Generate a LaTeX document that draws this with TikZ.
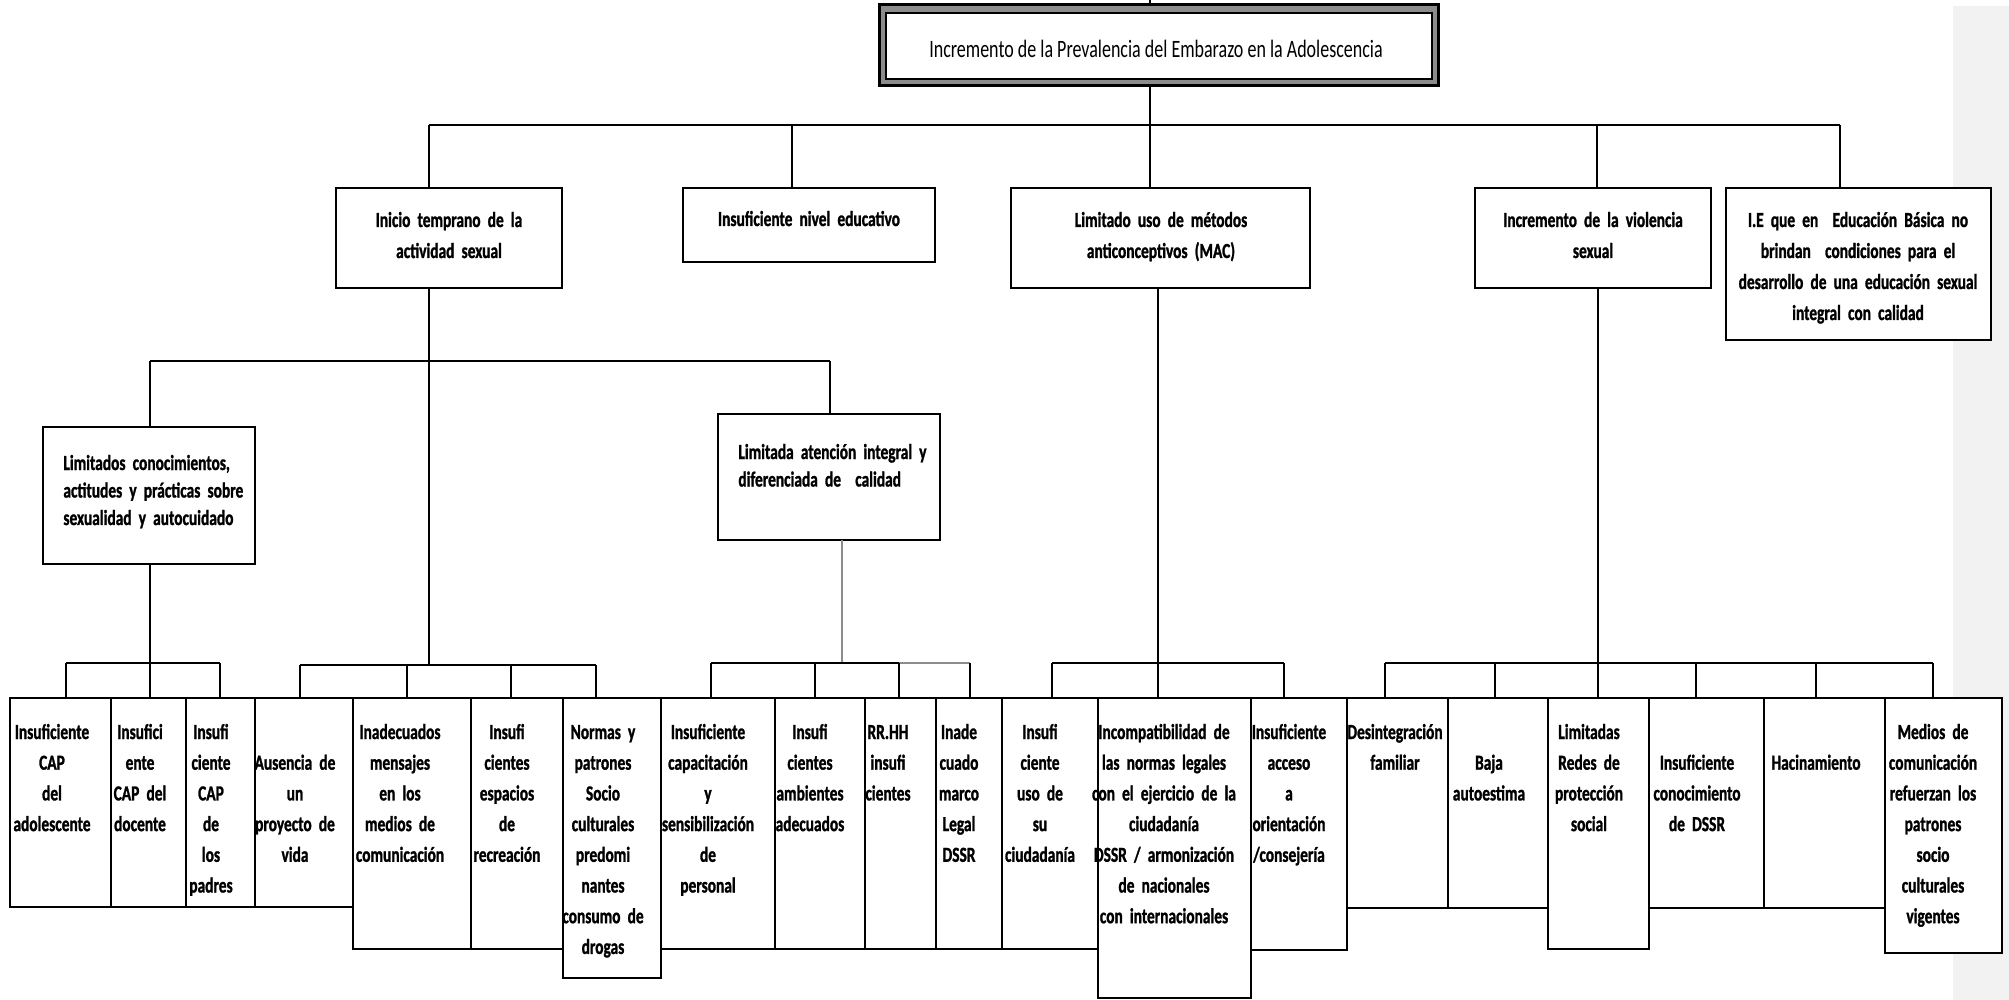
\documentclass[tikz,border=0pt]{standalone}
\usepackage{fontspec}
\setmainfont{Carlito}[FakeStretch=0.72,BoldFeatures={FakeBold=1.2}]
\newcommand\mybox[5]{\node[box,minimum width={(#4-#2)*0.5pt},minimum height={(#5-#3)*0.5pt}] (#1) at ({(#2+#4)/2},{(#3+#5)/2}) {};}
\newcommand\boldset[2]{\bfseries\fontsize{#1}{#2}\selectfont}
\begin{document}
\begin{tikzpicture}[x=0.5pt,y=-0.5pt,
  box/.style={draw=black,fill=white,line width=1.2pt,inner sep=0pt,outer sep=0pt},
  conn/.style={line width=0.85pt,draw=black},
  gconn/.style={line width=0.85pt,draw=black!45},
  btxt/.style={inner sep=0pt,align=center,text width=170pt,anchor=base,font=\boldset{10.7}{15.35}},
  ltxt/.style={inner sep=0pt,align=center,text width=170pt,anchor=base,font=\boldset{10.7}{15.5}},
  mtxt/.style={inner sep=0pt,align=left,text width=150pt,anchor=base west,font=\boldset{10.7}{13.75}},
  ttxt/.style={inner sep=0pt,anchor=base,font=\fontsize{12.5}{15}\selectfont}
]
\useasboundingbox (0,0) rectangle (2009,1000);
\fill[black!5] (1953,6) rectangle (2009,1000);

% ---------- title ----------
\node[draw=black,fill=black!45,line width=1.5pt,inner sep=0pt,minimum width={559*0.5pt},minimum height={81*0.5pt}] (T) at (1158.5,45.5) {};
\node[draw=black,fill=white,line width=1.25pt,inner sep=0pt,minimum width={546*0.5pt},minimum height={66*0.5pt}] (Ti) at (1159,46) {};
\node[ttxt] (Tt) at (1156,58) {Incremento de la Prevalencia del Embarazo en la Adolescencia};

% ---------- level 1 ----------
\mybox{A}{336}{188}{562}{288}
\mybox{B}{683}{188}{935}{262}
\mybox{C}{1011}{188}{1310}{288}
\mybox{D}{1475}{188}{1711}{288}
\mybox{E}{1726}{188}{1991}{340}

% ---------- level 2 ----------
\mybox{L1}{43}{427}{255}{564}
\mybox{L2}{718}{414}{940}{540}

% ---------- bottom row ----------
\mybox{b1}{10}{698}{111}{907}
\mybox{b2}{111}{698}{186}{907}
\mybox{b3}{186}{698}{255}{907}
\mybox{b4}{255}{698}{353}{907}
\mybox{b5}{353}{698}{471}{949}
\mybox{b6}{471}{698}{563}{949}
\mybox{b7}{563}{698}{661}{978}
\mybox{b8}{661}{698}{775}{949}
\mybox{b9}{775}{698}{865}{949}
\mybox{b10}{865}{698}{936}{949}
\mybox{b11}{936}{698}{1002}{949}
\mybox{b12}{1002}{698}{1098}{949}
\mybox{b13}{1098}{698}{1251}{998}
\mybox{b14}{1251}{698}{1347}{950}
\mybox{b15}{1347}{698}{1448}{908}
\mybox{b16}{1448}{698}{1548}{908}
\mybox{b17}{1548}{698}{1649}{949}
\mybox{b18}{1649}{698}{1764}{908}
\mybox{b19}{1764}{698}{1885}{908}
\mybox{b20}{1885}{698}{2002}{953}

% ---------- connectors ----------
\coordinate (tp) at (1150,0);
\coordinate (j1) at (429,125);
\coordinate (j2) at (792,125);
\coordinate (j3) at (1150,125);
\coordinate (j4) at (1597,125);
\coordinate (j5) at (1840,125);
\draw[conn] (tp) -- (tp |- T.north);
\draw[conn] (tp |- T.south) -- (j3);
\draw[conn] (j1) -- (j5);
\draw[conn] (j1) -- (j1 |- A.north);
\draw[conn] (j2) -- (j2 |- B.north);
\draw[conn] (j3) -- (j3 |- C.north);
\draw[conn] (j4) -- (j4 |- D.north);
\draw[conn] (j5) -- (j5 |- E.north);

% level 2 split from A
\coordinate (m1) at (150,361);
\coordinate (m2) at (830,361);
\coordinate (mA) at (429,361);
\draw[conn] (m1) -- (m2);
\draw[conn] (m1) -- (m1 |- L1.north);
\draw[conn] (m2) -- (m2 |- L2.north);

% brackets
\coordinate (k1a) at (66,663);  \coordinate (k1b) at (150,663); \coordinate (k1c) at (220,663);
\coordinate (k2a) at (300,665); \coordinate (k2b) at (407,665); \coordinate (k2c) at (511,665); \coordinate (k2d) at (596,665);
\coordinate (k3a) at (711,663); \coordinate (k3b) at (815,663); \coordinate (k3c) at (899,663); \coordinate (k3d) at (970,663);
\coordinate (k4a) at (1052,663); \coordinate (k4b) at (1158,663); \coordinate (k4c) at (1284,663);
\coordinate (k5a) at (1385,663); \coordinate (k5b) at (1495,663); \coordinate (k5c) at (1598,663);
\coordinate (k5d) at (1696,663); \coordinate (k5e) at (1816,663); \coordinate (k5f) at (1933,663);
\coordinate (g1) at (842,663);

% parents down to brackets
\draw[conn] (k1b |- L1.south) -- (k1b);
\draw[conn] (j1 |- A.south) -- (mA) -- (mA |- k2a);
\draw[gconn] (g1 |- L2.south) -- (g1);
\draw[conn] (k4b |- C.south) -- (k4b);
\draw[conn] (k5c |- D.south) -- (k5c);

% horizontal bars
\draw[conn] (k1a) -- (k1c);
\draw[conn] (k2a) -- (k2d);
\draw[conn] (k3a) -- (k3c);
\draw[gconn] (k3c) -- (k3d);
\draw[conn] (k4a) -- (k4c);
\draw[conn] (k5a) -- (k5f);

% drops
\draw[conn] (k1a) -- (k1a |- b1.north);
\draw[conn] (k1b) -- (k1b |- b2.north);
\draw[conn] (k1c) -- (k1c |- b3.north);
\draw[conn] (k2a) -- (k2a |- b4.north);
\draw[conn] (k2b) -- (k2b |- b5.north);
\draw[conn] (k2c) -- (k2c |- b6.north);
\draw[conn] (k2d) -- (k2d |- b7.north);
\draw[conn] (k3a) -- (k3a |- b8.north);
\draw[conn] (k3b) -- (k3b |- b9.north);
\draw[conn] (k3c) -- (k3c |- b10.north);
\draw[conn] (k3d) -- (k3d |- b11.north);
\draw[conn] (k4a) -- (k4a |- b12.north);
\draw[conn] (k4b) -- (k4b |- b13.north);
\draw[conn] (k4c) -- (k4c |- b14.north);
\draw[conn] (k5a) -- (k5a |- b15.north);
\draw[conn] (k5b) -- (k5b |- b16.north);
\draw[conn] (k5c) -- (k5c |- b17.north);
\draw[conn] (k5d) -- (k5d |- b18.north);
\draw[conn] (k5e) -- (k5e |- b19.north);
\draw[conn] (k5f) -- (k5f |- b20.north);

% ---------- texts ----------
\node[ltxt] (At) at (449,227) {Inicio temprano de la\\actividad sexual};
\node[ltxt] (Bt) at (809,226) {Insuficiente nivel educativo};
\node[ltxt] (Ct) at (1161,227) {Limitado uso de métodos\\anticonceptivos (MAC)};
\node[ltxt] (Dt) at (1593,227) {Incremento de la violencia\\sexual};
\node[ltxt] (Et) at (1858,227) {I.E que en\ \ Educación Básica no\\brindan\ \ condiciones para el\\desarrollo de una educación sexual\\integral con calidad};

\node[mtxt] (L1t) at (63,470) {Limitados conocimientos,\\actitudes y prácticas sobre\\sexualidad y autocuidado};
\node[mtxt] (L2t) at (738,459) {Limitada atención integral y\\diferenciada de\ \ calidad};

\node[btxt] (t1) at (52,739) {Insuficiente\\CAP\\del\\adolescente};
\node[btxt] (t2) at (140,739) {Insufici\\ente\\CAP del\\docente};
\node[btxt] (t3) at (211,739) {Insufi\\ciente\\CAP\\de\\los\\padres};
\node[btxt] (t4) at (295,769.7) {Ausencia de\\un\\proyecto de\\vida};
\node[btxt] (t5) at (400,739) {Inadecuados\\mensajes\\en los\\medios de\\comunicación};
\node[btxt] (t6) at (507,739) {Insufi\\cientes\\espacios\\de\\recreación};
\node[btxt] (t7) at (603,739) {Normas y\\patrones\\Socio\\culturales\\predomi\\nantes\\consumo de\\drogas};
\node[btxt] (t8) at (708,739) {Insuficiente\\capacitación\\y\\sensibilización\\de\\personal};
\node[btxt] (t9) at (810,739) {Insufi\\cientes\\ambientes\\adecuados};
\node[btxt] (t10) at (888,739) {RR.HH\\insufi\\cientes};
\node[btxt] (t11) at (959,739) {Inade\\cuado\\marco\\Legal\\DSSR};
\node[btxt] (t12) at (1040,739) {Insufi\\ciente\\uso de\\su\\ciudadanía};
\node[btxt] (t13) at (1164,739) {Incompatibilidad de\\las normas legales\\con el ejercicio de la\\ciudadanía\\DSSR / armonización\\de nacionales\\con internacionales};
\node[btxt] (t14) at (1289,739) {Insuficiente\\acceso\\a\\orientación\\/consejería};
\node[btxt] (t15) at (1395,739) {Desintegración\\familiar};
\node[btxt] (t16) at (1489,769.7) {Baja\\autoestima};
\node[btxt] (t17) at (1589,739) {Limitadas\\Redes de\\protección\\social};
\node[btxt] (t18) at (1697,769.7) {Insuficiente\\conocimiento\\de DSSR};
\node[btxt] (t19) at (1816,769.7) {Hacinamiento};
\node[btxt] (t20) at (1933,739) {Medios de\\comunicación\\refuerzan los\\patrones\\socio\\culturales\\vigentes};
\end{tikzpicture}
\end{document}
